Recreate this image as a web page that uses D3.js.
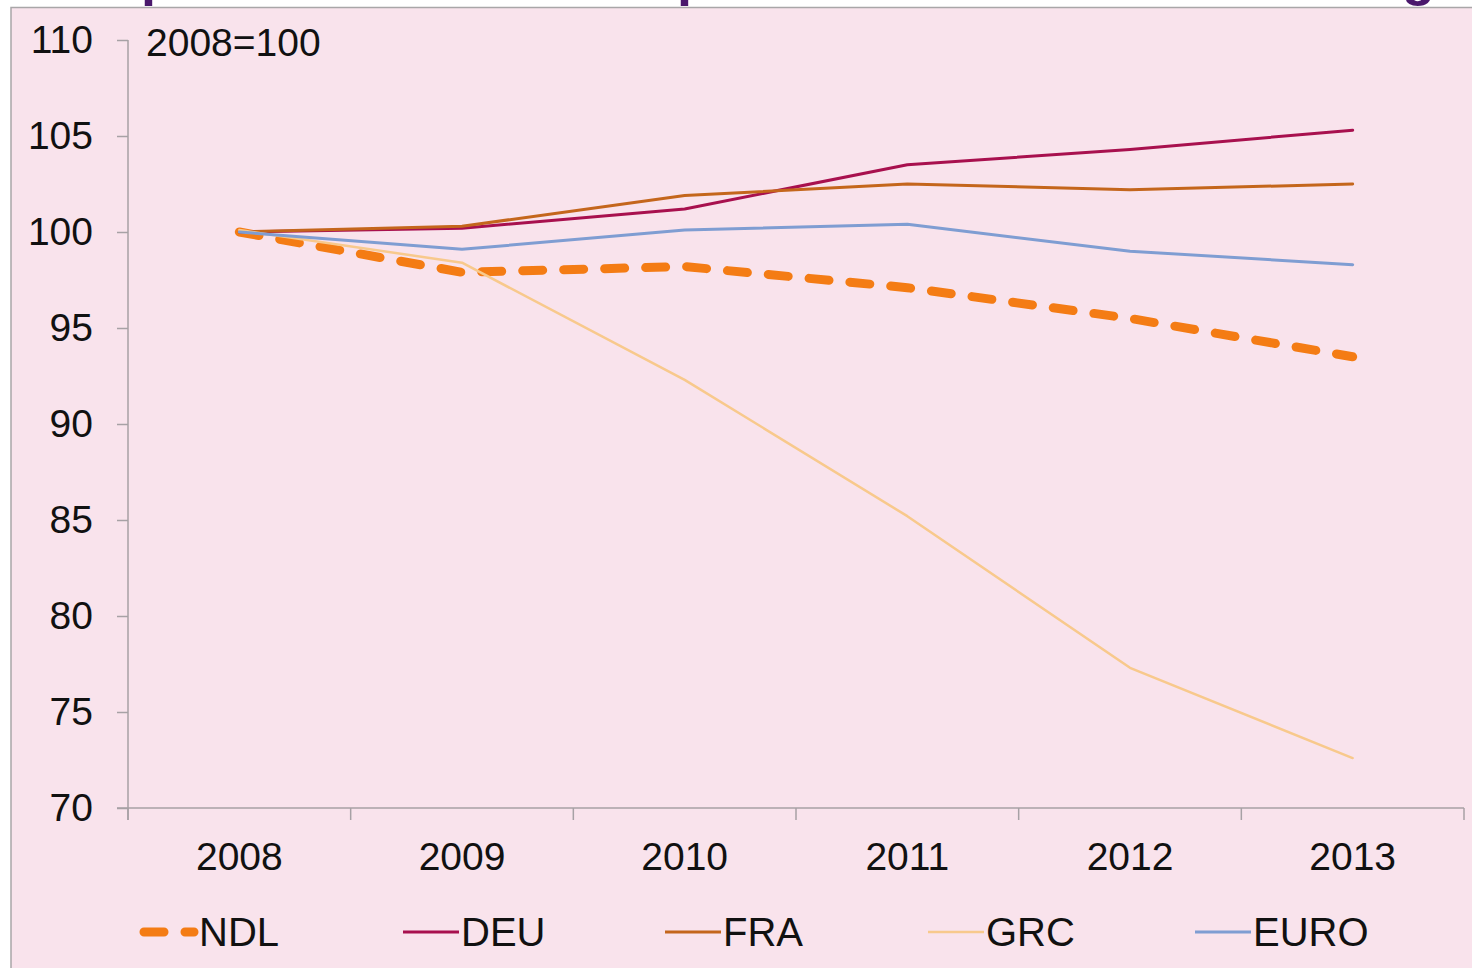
<!DOCTYPE html>
<html>
<head>
<meta charset="utf-8">
<script src="https://cdn.jsdelivr.net/npm/d3@7"></script>
<style>
  html, body { margin: 0; padding: 0; background: #ffffff; overflow: hidden; }
  svg { display: block; font-family: "Liberation Sans", Arial, sans-serif; }
</style>
</head>
<body>
<svg id="chart" width="1472" height="968"></svg>
<script>
// Index values, 2008 = 100
const years = ["2008", "2009", "2010", "2011", "2012", "2013"];
const yTicks = [70, 75, 80, 85, 90, 95, 100, 105, 110];
const seriesNames = ["NDL", "DEU", "FRA", "GRC", "EURO"];
const ndl  = [100.0, 97.9, 98.2, 97.1, 95.5, 93.5];
const deu  = [100.0, 100.2, 101.2, 103.5, 104.3, 105.3];
const fra  = [100.0, 100.3, 101.9, 102.5, 102.2, 102.5];
const grc  = [100.1, 98.4, 92.3, 85.2, 77.3, 72.6];
const euro = [100.0, 99.1, 100.1, 100.4, 99.0, 98.3];
const baseLabel = "2008=100";

const colors = {
  NDL: "#f47c14",
  DEU: "#a8104e",
  FRA: "#c4661c",
  GRC: "#f8c98c",
  EURO: "#7f9dd2"
};

const series = [
  { name: "NDL", values: ndl, width: 9, dash: "20,21" },
  { name: "DEU", values: deu, width: 3 },
  { name: "FRA", values: fra, width: 3 },
  { name: "GRC", values: grc, width: 2.5 },
  { name: "EURO", values: euro, width: 3 }
];

const svg = d3.select("#chart");

// clipped title row above the panel
svg.append("clipPath").attr("id", "titleClip")
  .append("rect").attr("x", 0).attr("y", 0).attr("width", 1472).attr("height", 7);
const titleG = svg.append("g").attr("clip-path", "url(#titleClip)")
  .attr("fill", "#4a186c").attr("font-weight", "bold").attr("font-size", 54);
[["p", 141], ["p", 677], ["g", 1402]].forEach(([ch, px]) => {
  titleG.append("text").attr("x", px).attr("y", -5).text(ch);
});

// panel background
svg.append("rect")
  .attr("x", 11).attr("y", 7.5)
  .attr("width", 1480).attr("height", 990)
  .attr("fill", "#f9e3ec")
  .attr("stroke", "#a9a6a8").attr("stroke-width", 1.5);

const plotLeft = 128, plotRight = 1464, plotTop = 40, plotBottom = 808;

const x = d3.scaleBand().domain(years).range([plotLeft, plotRight]).padding(0);
const y = d3.scaleLinear().domain([70, 110]).range([plotBottom, plotTop]);
const cx = d => x(d) + x.bandwidth() / 2;

const axisColor = "#a7a1a5";

// y axis
const yAxis = svg.append("g")
  .attr("transform", `translate(${plotLeft},0)`)
  .call(d3.axisLeft(y).tickValues(yTicks).tickSize(11).tickPadding(24).tickFormat(d3.format("d")));
yAxis.select(".domain").attr("stroke", axisColor).attr("stroke-width", 1.5)
  .attr("d", `M0,${plotTop}V${plotBottom + 12}`);
yAxis.selectAll(".tick line").attr("stroke", axisColor).attr("stroke-width", 1.5);
yAxis.selectAll(".tick text").attr("font-size", 39).attr("fill", "#111").attr("font-family", "Liberation Sans, Arial, sans-serif");

// x axis: labels at category centres, ticks at category boundaries
const xAxis = svg.append("g")
  .attr("transform", `translate(0,${plotBottom})`)
  .call(d3.axisBottom(x).tickSize(0).tickPadding(34));
xAxis.select(".domain").attr("stroke", axisColor).attr("stroke-width", 1.5)
  .attr("d", `M${plotLeft - 11},0H${plotRight}`);
xAxis.selectAll(".tick text").attr("font-size", 39).attr("fill", "#111").attr("font-family", "Liberation Sans, Arial, sans-serif");
const bounds = years.map(d => x(d)).concat([x(years[years.length - 1]) + x.bandwidth()]);
xAxis.selectAll(".bound").data(bounds).enter().append("line")
  .attr("class", "bound")
  .attr("x1", d => d).attr("x2", d => d)
  .attr("y1", 0).attr("y2", 12)
  .attr("stroke", axisColor).attr("stroke-width", 1.5);

// base label
svg.append("text")
  .attr("x", 146).attr("y", 42).attr("dy", "0.35em")
  .attr("font-size", 39).attr("fill", "#111")
  .text(baseLabel);

// series lines
const line = d3.line().x((d, i) => cx(years[i])).y(d => y(d));
series.forEach(s => {
  svg.append("path")
    .datum(s.values)
    .attr("d", line)
    .attr("fill", "none")
    .attr("stroke", colors[s.name])
    .attr("stroke-width", s.width)
    .attr("stroke-linejoin", "round")
    .attr("stroke-linecap", "round")
    .attr("stroke-dasharray", s.dash || null);
});

// legend
const legendX = [140, 403, 665, 928, 1195];
const legendY = 932;
series.forEach((s, i) => {
  const g = svg.append("g").attr("transform", `translate(${legendX[i]},${legendY})`);
  if (s.dash) {
    g.append("line").attr("x1", 4).attr("x2", 54).attr("y1", 0).attr("y2", 0)
      .attr("stroke", colors[s.name]).attr("stroke-width", 9)
      .attr("stroke-linecap", "round").attr("stroke-dasharray", "20,21");
  } else {
    g.append("line").attr("x1", 0).attr("x2", 56).attr("y1", 0).attr("y2", 0)
      .attr("stroke", colors[s.name]).attr("stroke-width", s.width);
  }
  g.append("text").attr("x", s.dash ? 59 : 58).attr("y", 0).attr("dy", "0.36em")
    .attr("font-size", 40).attr("fill", "#111").text(s.name);
});
</script>
</body>
</html>
